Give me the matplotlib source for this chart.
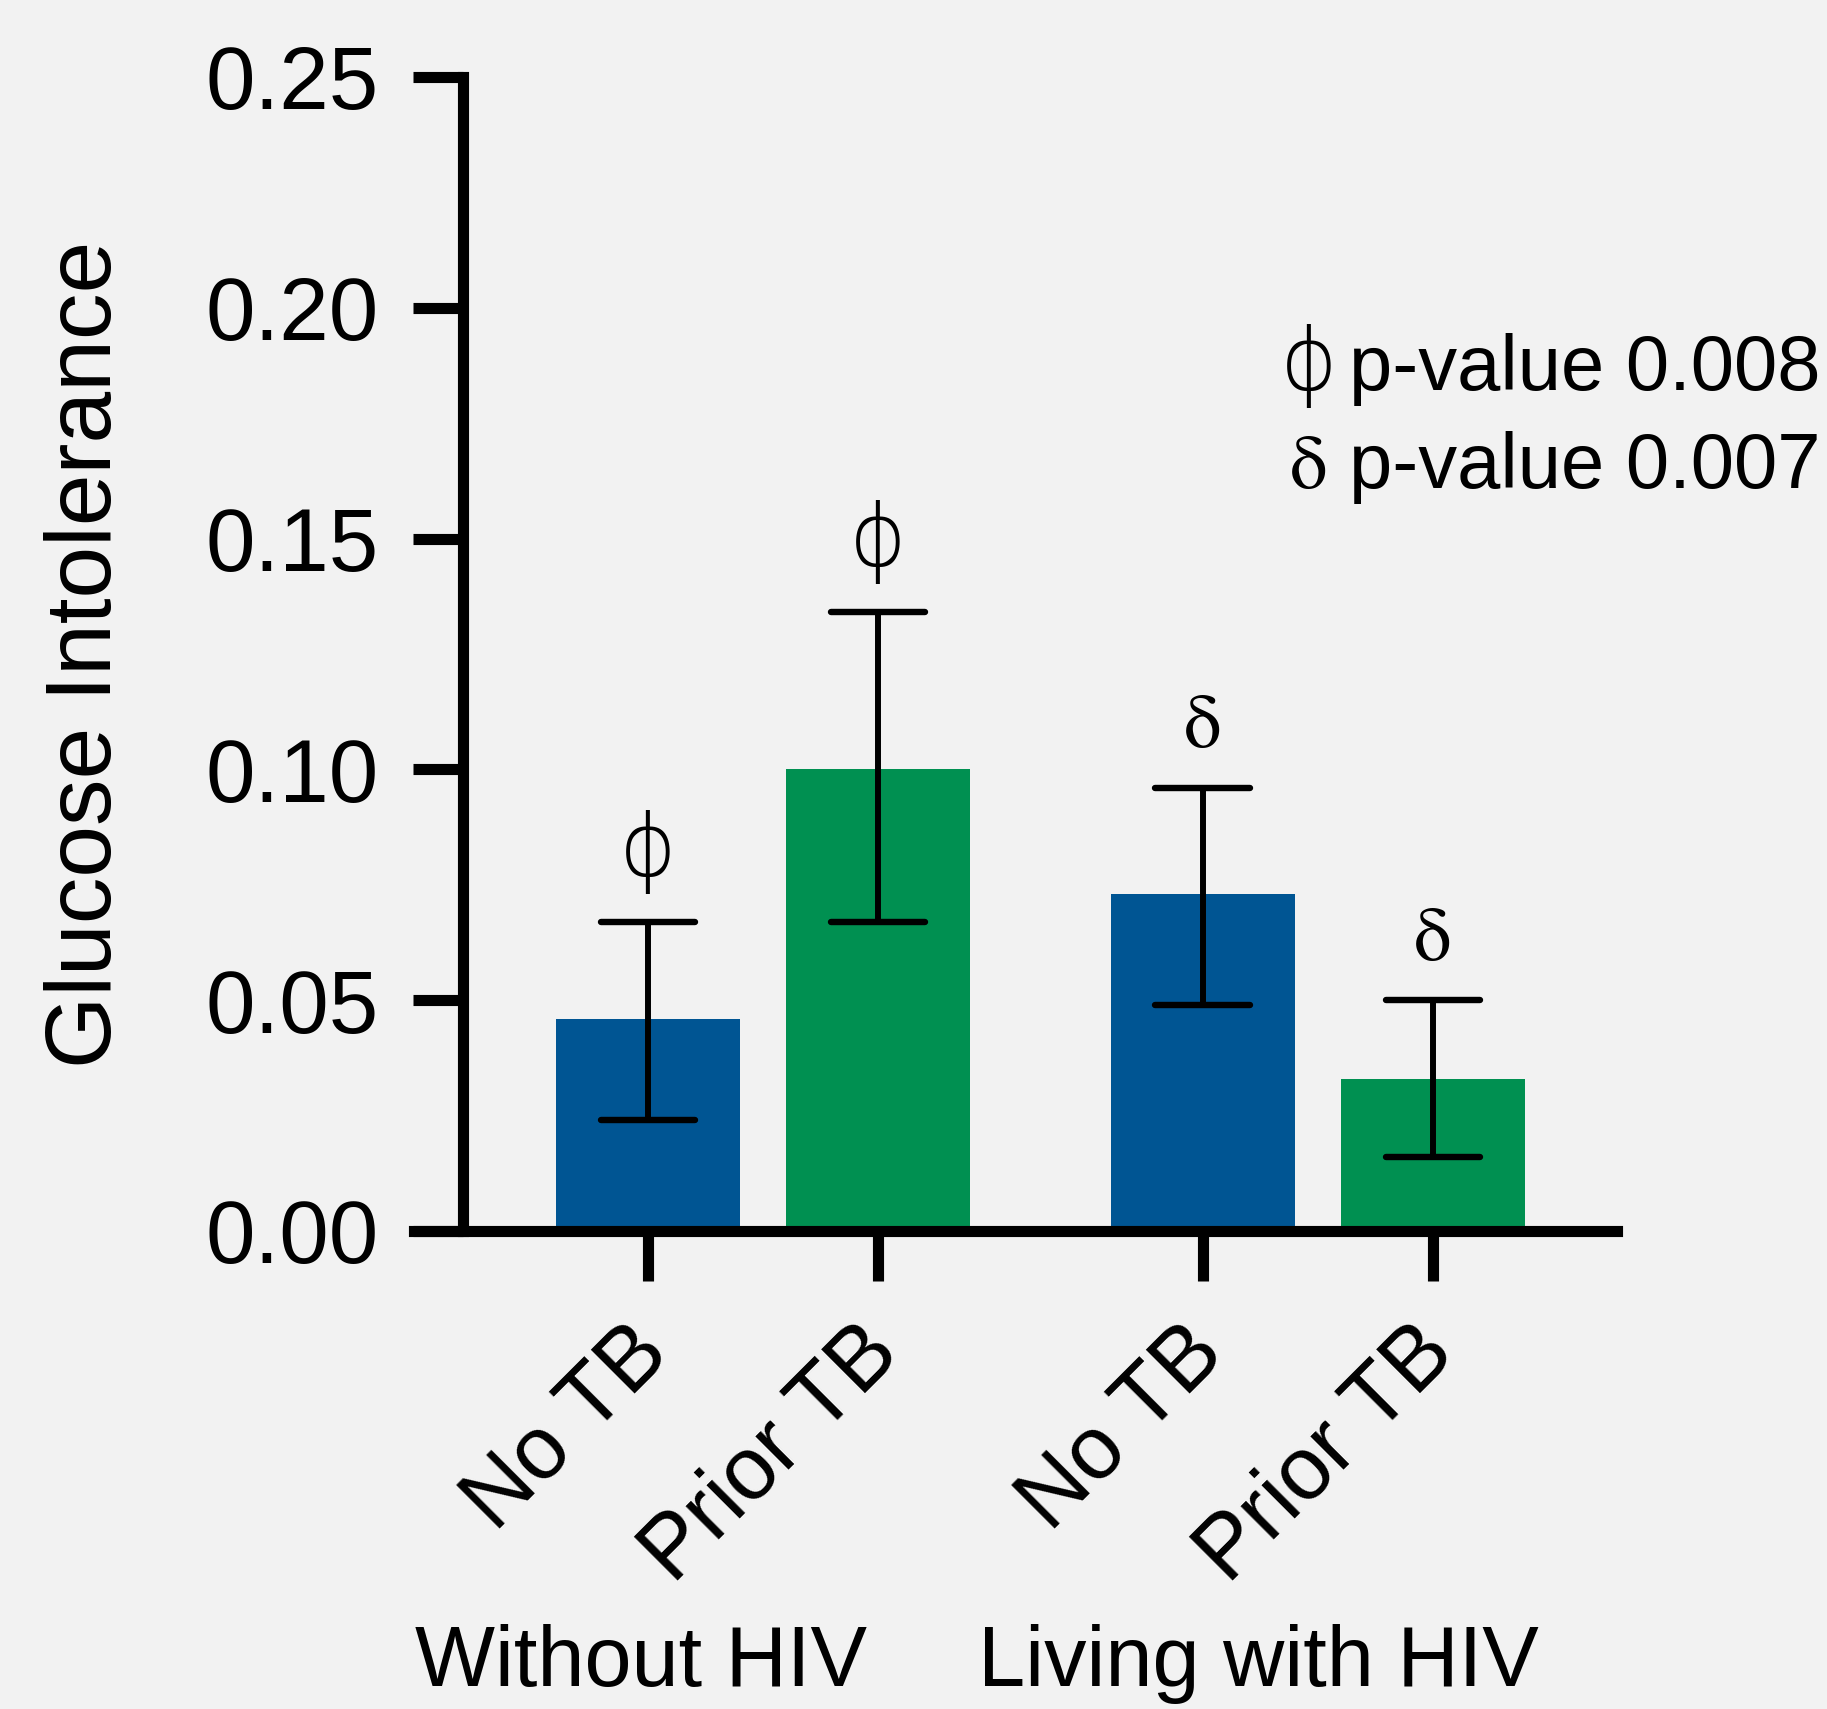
import matplotlib
matplotlib.use("Agg")
import matplotlib.pyplot as plt
import matplotlib.transforms as mtransforms
import numpy as np

# group means with lower / upper error limits
categories = ["No TB", "Prior TB", "No TB", "Prior TB"]
groups = ["Without HIV", "Living with HIV"]
means = [0.046, 0.100, 0.073, 0.033]
err_low = [0.024, 0.067, 0.049, 0.016]
err_high = [0.067, 0.134, 0.096, 0.050]
marks = ["\u03d5", "\u03d5", "\u03b4", "\u03b4"]
legend_marks = ["\u03d5", "\u03b4"]
legend_text = ["p-value 0.008", "p-value 0.007"]

bg = "#f2f2f2"
colors = ["#005593", "#009051", "#005593", "#009051"]
sans = ["Liberation Sans", "DejaVu Sans"]
plt.rcParams["font.family"] = sans

# phi is drawn as a thin stroked circle, delta as a serif glyph
mark_style = {
    "\u03d5": dict(family=["DejaVu Sans"], fontweight="light", fontsize=63),
    "\u03b4": dict(family=["STIXGeneral", "Liberation Serif"], fontsize=54),
}
mark_gap = {"\u03d5": 0.0100, "\u03b4": 0.0088}

fig = plt.figure(figsize=(18.27, 17.09), dpi=100, facecolor=bg)
ax = fig.add_axes([0.2266, 0.2797, 0.6584, 0.6753])
ax.set_facecolor(bg)

x = np.array([0, 1, 2.41, 3.41])
means = np.array(means)
lo = means - np.array(err_low)
hi = np.array(err_high) - means

ax.bar(x, means, width=0.8, color=colors, zorder=2)
ax.errorbar(x, means, yerr=[lo, hi], fmt="none", ecolor="black",
            elinewidth=4.3, capsize=0, zorder=3)
# rounded caps on both ends of each error bar
for ends in (err_low, err_high):
    caps = ax.hlines(ends, x - 0.205, x + 0.205, colors="black",
                     linewidth=4.6, zorder=3)
    caps.set_capstyle("round")

for xi, top, m in zip(x, err_high, marks):
    ax.text(xi, top + mark_gap[m], m, ha="center", va="baseline",
            **mark_style[m])

ax.set_xlim(-1.017, 4.21)
ax.set_ylim(0, 0.25)
ax.spines["left"].set_position(("data", -0.804))
ax.spines["left"].set_capstyle("projecting")
for s in ["top", "right"]:
    ax.spines[s].set_visible(False)
for s in ["left", "bottom"]:
    ax.spines[s].set_linewidth(8)

ax.set_yticks([0, 0.05, 0.10, 0.15, 0.20, 0.25])
ax.set_yticklabels([f"{v:.2f}" for v in ax.get_yticks()])
ax.tick_params(axis="y", length=36, width=8, pad=24.5, labelsize=64)
ax.tick_params(axis="x", length=36, width=8)
ax.set_xticks(x)
ax.set_xticklabels([])

trans = mtransforms.blended_transform_factory(ax.transData, ax.transAxes)
for xi, c in zip(x, categories):
    ax.text(xi + 0.035, -0.0945, c, transform=trans, rotation=45,
            ha="right", va="center", rotation_mode="anchor", fontsize=64)

ax.set_ylabel("Glucose Intolerance", fontsize=67)
ax.yaxis.set_label_coords(-0.272, 0.5)
ax.yaxis.label.set_va("center")

for gx, g in zip([x[0] - 0.03, x[2] + 0.24], groups):
    ax.text(gx, -0.394, g, transform=trans, ha="center", va="baseline",
            fontsize=61)

for yy, m, t in zip([0.7288, 0.6438], legend_marks, legend_text):
    ax.text(1.169, yy, t, transform=ax.transAxes, ha="right",
            va="baseline", fontsize=56)
    ax.text(0.744, yy, m, transform=ax.transAxes, ha="center",
            va="baseline", **mark_style[m])

fig.savefig("out.png", dpi=100, facecolor=bg)
